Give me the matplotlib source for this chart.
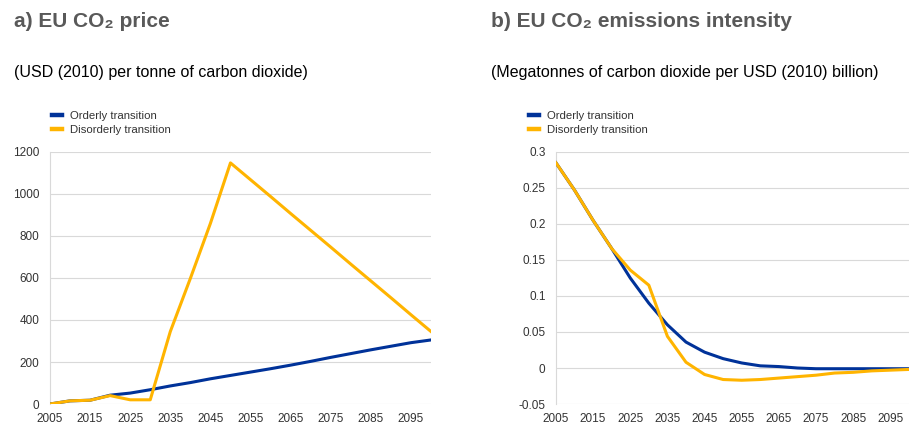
import matplotlib
matplotlib.use("Agg")
import matplotlib.pyplot as plt

plt.rcParams["font.family"] = ["Liberation Sans", "DejaVu Sans"]

years = list(range(2005, 2101, 5))

price_orderly = [0, 15, 18, 42, 52, 68, 86, 102, 120, 136, 152, 168, 185, 203, 222, 240, 258, 275, 292, 305]
price_disorderly = [0, 15, 18, 40, 20, 20, 345, 598, 860, 1148, 1068, 988, 907, 827, 747, 666, 586, 506, 425, 345]

intensity_orderly = [0.285, 0.247, 0.205, 0.166, 0.125, 0.090, 0.060, 0.036, 0.022, 0.013,
                     0.007, 0.003, 0.002, 0.000, -0.001, -0.001, -0.001, -0.001, -0.001, -0.001]
intensity_disorderly = [0.285, 0.247, 0.205, 0.166, 0.136, 0.115, 0.044, 0.008, -0.009, -0.016,
                        -0.017, -0.016, -0.014, -0.012, -0.010, -0.007, -0.006, -0.004, -0.003, -0.002]

series_labels = ["Orderly transition", "Disorderly transition"]
xtick_years = list(range(2005, 2100, 10))

BLUE = "#003299"
YELLOW = "#FFB400"
GRID = "#d9d9d9"
TXT = "#333333"

fig = plt.figure(figsize=(9.12, 4.25), dpi=100)

ax1 = fig.add_axes([0.0548, 0.0494, 0.4178, 0.593])
ax2 = fig.add_axes([0.6096, 0.0494, 0.3870, 0.593])


def style(ax, ylim, yticks, fmt):
    ax.set_xlim(2005, 2100)
    ax.set_ylim(*ylim)
    ax.set_xticks(xtick_years)
    ax.set_yticks(yticks)
    ax.set_yticklabels([fmt(v) for v in yticks])
    ax.grid(axis="y", color=GRID, linewidth=0.8)
    ax.set_axisbelow(True)
    for s in ["top", "right", "bottom"]:
        ax.spines[s].set_visible(False)
    ax.spines["left"].set_color(GRID)
    ax.spines["left"].set_linewidth(0.8)
    ax.tick_params(length=0, labelsize=8.5, colors=TXT)
    ax.tick_params(axis="y", pad=7.5)
    ax.tick_params(axis="x", pad=6.5)


l1, = ax1.plot(years, price_orderly, color=BLUE, lw=2.2, label=series_labels[0], zorder=3)
l2, = ax1.plot(years, price_disorderly, color=YELLOW, lw=2.2, label=series_labels[1], zorder=4)
style(ax1, (0, 1200), list(range(0, 1201, 200)), lambda v: f"{v:g}")

ax2.plot(years, intensity_orderly, color=BLUE, lw=2.2, label=series_labels[0], zorder=3)
ax2.plot(years, intensity_disorderly, color=YELLOW, lw=2.2, label=series_labels[1], zorder=4)
style(ax2, (-0.05, 0.3), [-0.05, 0, 0.05, 0.1, 0.15, 0.2, 0.25, 0.3], lambda v: f"{v:g}")

# legends sit above each panel, under the unit line
for x0 in [0.057, 0.580]:
    leg = fig.legend(handles=[l1, l2], loc="upper left", bbox_to_anchor=(x0, 0.738),
                     frameon=False, fontsize=8.2, handlelength=0.9, handletextpad=0.7,
                     labelspacing=0.35, borderaxespad=0, borderpad=0)
    for t in leg.get_texts():
        t.set_color(TXT)
    for h in leg.legend_handles:
        h.set_linewidth(3.2)

fig.text(0.015, 0.95, "a) EU CO₂ price", fontsize=15, fontweight="bold", color="#595959", va="center")
fig.text(0.538, 0.95, "b) EU CO₂ emissions intensity", fontsize=15, fontweight="bold", color="#595959", va="center")
fig.text(0.015, 0.83, "(USD (2010) per tonne of carbon dioxide)", fontsize=11.5, color="black", va="center")
fig.text(0.538, 0.83, "(Megatonnes of carbon dioxide per USD (2010) billion)", fontsize=11.5, color="black", va="center")

fig.savefig("out.png", dpi=100)
